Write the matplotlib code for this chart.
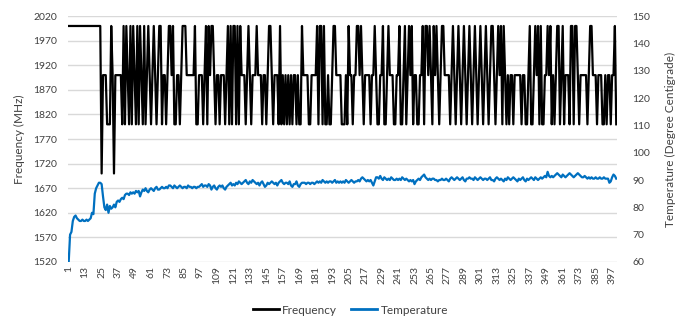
import matplotlib
matplotlib.use("Agg")
import matplotlib.pyplot as plt
from matplotlib.lines import Line2D

# Frequency samples (MHz), 25 per row
frequency = [
    2000, 2000, 2000, 2000, 2000, 2000, 2000, 2000, 2000, 2000, 2000, 2000, 2000, 2000, 2000, 2000, 2000, 2000, 2000, 2000, 2000, 2000, 2000, 2000, 1700,
    1900, 1900, 1900, 1800, 1800, 1800, 2000, 1900, 1700, 1900, 1900, 1900, 1900, 1900, 1800, 2000, 1800, 2000, 1900, 1800, 2000, 1800, 2000, 1900, 1800,
    2000, 1800, 2000, 1900, 1800, 2000, 1800, 1900, 2000, 1900, 1800, 1900, 2000, 1900, 1800, 1900, 2000, 2000, 1800, 1900, 1900, 1800, 1900, 2000, 2000,
    1900, 2000, 1800, 1800, 1900, 1900, 1800, 1900, 2000, 2000, 2000, 1900, 1900, 1900, 1900, 1900, 1900, 2000, 1800, 1800, 1900, 1900, 1900, 1800, 1900,
    2000, 1800, 2000, 1900, 2000, 2000, 1900, 1800, 1900, 1900, 1800, 1900, 1900, 1900, 1800, 1900, 2000, 1800, 2000, 1800, 2000, 2000, 1800, 2000, 1800,
    2000, 1900, 1900, 1900, 1800, 1900, 2000, 1900, 1800, 1900, 1900, 1900, 2000, 1900, 1900, 1900, 1800, 1900, 1900, 1800, 1900, 2000, 2000, 1900, 1800,
    1900, 1900, 1900, 1800, 2000, 1800, 1900, 1800, 1900, 1800, 1900, 1800, 1900, 1800, 1900, 1900, 1800, 1900, 1800, 1800, 2000, 1900, 1900, 1900, 1900,
    1800, 1800, 1900, 1900, 1900, 1900, 2000, 1800, 2000, 2000, 1800, 2000, 1800, 1800, 1900, 1800, 1800, 1900, 2000, 2000, 1900, 1900, 1900, 1900, 1800,
    1800, 1800, 1900, 1800, 2000, 1900, 1900, 1800, 1900, 1900, 2000, 2000, 1900, 2000, 1900, 1800, 1900, 1900, 1900, 1900, 1800, 1900, 1900, 2000, 1900,
    1800, 1800, 1900, 1900, 2000, 1800, 1800, 1900, 2000, 1900, 1900, 1900, 1800, 1800, 1900, 1900, 2000, 1800, 1800, 1900, 2000, 1800, 1900, 2000, 1900,
    2000, 1800, 1900, 1900, 1800, 1800, 1900, 1900, 2000, 1800, 2000, 2000, 1900, 2000, 1900, 1800, 2000, 1900, 2000, 1900, 1800, 1900, 2000, 2000, 1900,
    1900, 1900, 1900, 1800, 1900, 2000, 1900, 1800, 1900, 2000, 1900, 1800, 1900, 2000, 1900, 1800, 1900, 2000, 1900, 1800, 1900, 2000, 1900, 1800, 1900,
    2000, 1900, 1800, 1900, 2000, 1900, 1800, 1900, 2000, 2000, 1900, 1800, 1900, 2000, 1900, 2000, 1800, 2000, 1900, 1800, 1900, 1800, 1900, 1900, 1800,
    1900, 1900, 1900, 1900, 1900, 1800, 1900, 1900, 1800, 1800, 1900, 2000, 1800, 1800, 1900, 2000, 1900, 2000, 1800, 2000, 1800, 1800, 1900, 1900, 2000,
    1900, 2000, 1800, 1900, 1800, 1900, 2000, 2000, 1800, 1900, 2000, 1800, 1900, 1900, 1900, 1800, 2000, 2000, 1800, 2000, 2000, 1900, 1800, 1900, 1900,
    1900, 1900, 1900, 1800, 1900, 2000, 2000, 1900, 1900, 1900, 1800, 1900, 1900, 1900, 1800, 1800, 1900, 1800, 1900, 1900, 1800, 1900, 1900, 2000, 1800,
]

# Temperature samples (degree centigrade), 25 per row
temperature = [
    60, 70, 71, 75, 76.5, 77, 76, 75.5, 75, 75, 75.5, 75, 75, 75.5, 75, 75.5, 76, 78, 77.5, 85, 87, 88, 89, 89, 88.5,
    84, 80, 79, 81, 78, 80.5, 79.5, 80, 81, 80, 82, 82.5, 82, 83, 83.5, 83, 84.5, 85, 85, 84.5, 85.5, 85, 85.5, 85, 86,
    85.5, 86, 84, 85.5, 86.5, 86, 87, 86, 85.5, 86.5, 87, 86.5, 86, 87, 87.5, 86.5, 86.5, 87, 87.5, 87, 87, 87.5, 87, 88, 88,
    87.5, 87, 88, 87.5, 87, 87.5, 88, 87.5, 87, 87.5, 87.5, 87, 88, 87.5, 87.5, 87, 87.5, 87.5, 87, 87.5, 87.5, 88, 88.5, 87.5, 88,
    88, 87.5, 88.5, 88, 86.5, 87.5, 88, 87, 86.5, 87.5, 88, 87.5, 88, 87, 86.5, 87.5, 88, 88.5, 89, 88, 88.5, 88, 89, 88.5, 89.5,
    89, 88.5, 89, 89.5, 90, 89, 88.5, 89.5, 89, 90, 89.5, 89, 88.5, 89, 88, 89, 89.5, 88.5, 87.5, 88, 89, 88.5, 89, 89.5, 89,
    88.5, 89, 88, 89, 89.5, 90, 89, 88.5, 89, 89, 88.5, 89.5, 88, 87.5, 88.5, 88.5, 89.5, 88, 87.5, 88.5, 89, 89, 89, 88.5, 89,
    89, 88.5, 89, 89, 88.5, 89, 89.5, 89, 89.5, 89, 90, 89.5, 89, 89.5, 89, 89.5, 89.5, 89, 89.5, 90, 89, 89.5, 89, 89.5, 89,
    89.5, 89, 90, 89.5, 89, 89.5, 90, 89.5, 89, 89.5, 89.5, 90, 89.5, 90.5, 91, 90.5, 90, 89.5, 90, 89.5, 90, 89, 88, 89.5, 91,
    91, 90.5, 91.5, 90.5, 90, 91, 90.5, 90, 90.5, 90, 91, 90.5, 90, 90, 90.5, 90, 90.5, 90, 91, 90.5, 90, 90.5, 90, 89.5, 90,
    89.5, 90, 88.5, 89.5, 90, 90.5, 90, 91, 91.5, 92, 91, 90.5, 90, 90.5, 90, 90.5, 90.5, 90, 90, 89.5, 90, 90, 90.5, 90, 90,
    90.5, 90, 89.5, 90.5, 91, 90.5, 90, 90.5, 91, 90.5, 90, 90.5, 91, 90, 89.5, 90.5, 90.5, 91, 90.5, 90.5, 90, 91, 90.5, 90, 90.5,
    91, 90.5, 90, 90.5, 90.5, 90, 90.5, 91, 90, 90, 89.5, 90.5, 91, 90.5, 90, 90.5, 90, 89.5, 90.5, 90, 91, 90.5, 90, 90.5, 91,
    90.5, 90, 89.5, 90.5, 90, 90.5, 91, 90, 89.5, 90.5, 90, 90.5, 91, 90.5, 90, 91, 90.5, 90, 90.5, 91, 90.5, 91, 91.5, 91, 93,
    91.5, 91, 91.5, 91, 91.5, 92, 92.5, 92, 91.5, 91, 92, 91.5, 91, 91.5, 92, 92.5, 92, 91.5, 91, 91.5, 92, 92.5, 92, 91.5, 91,
    91, 91.5, 91, 90.5, 91, 90.5, 91, 90.5, 90.5, 91, 90.5, 90.5, 91, 90.5, 90.5, 91, 90.5, 90.5, 90.5, 89, 89.5, 91, 92, 91.5, 90.5,
]

samples = list(range(1, len(frequency) + 1))
tick_labels = [str(s) for s in samples[::12]]

plt.rcParams['font.family'] = ['Lato', 'DejaVu Sans']
black = "#000000"
blue = "#0070C0"
grid = "#d9d9d9"
text = "#404040"

fig = plt.figure(figsize=(6.87, 3.23), dpi=100)
ax = fig.add_axes([0.099, 0.189, 0.799, 0.761])
ax2 = ax.twinx()

ax2.plot(samples, temperature, color=blue, lw=1.6, zorder=2)
ax.plot(samples, frequency, color=black, lw=1.6, zorder=3)
ax.set_zorder(ax2.get_zorder() + 1)
ax.patch.set_visible(False)

ax.set_ylim(1520, 2020)
ax.set_yticks(range(1520, 2021, 50))
ax2.set_ylim(60, 150)
ax2.set_yticks(range(60, 151, 10))
ax.set_xlim(0.5, len(samples) + 0.5)
ax.set_xticks(samples[::12])
ax.set_xticklabels(tick_labels, rotation=90)

for a in (ax, ax2):
    for s in a.spines.values():
        s.set_visible(False)
    a.tick_params(length=0, labelsize=7.5, labelcolor=text)
ax.tick_params(axis='y', pad=8)
ax2.tick_params(axis='y', pad=11)
ax.tick_params(axis='x', pad=3)

# horizontal gridlines, drawn on the back axes
for v in range(1520, 2021, 50):
    ax2.axhline(60 + (v - 1520) * 90 / 500, color=grid, lw=1, zorder=0)

ax.set_ylabel("Frequency (MHz)", fontsize=8.5, color=text, labelpad=6)
ax2.set_ylabel("Temperature (Degree Centigrade)", fontsize=8.5, color=text, labelpad=11)

handles = [Line2D([], [], color=black, lw=2), Line2D([], [], color=blue, lw=2)]
fig.legend(handles, ["Frequency", "Temperature"], loc="center", bbox_to_anchor=(0.51, 0.04),
           ncol=2, frameon=False, fontsize=8.5, handlelength=2.2, handletextpad=0.3, columnspacing=1.2,
           labelcolor=text)

fig.savefig("out.png", dpi=100)
